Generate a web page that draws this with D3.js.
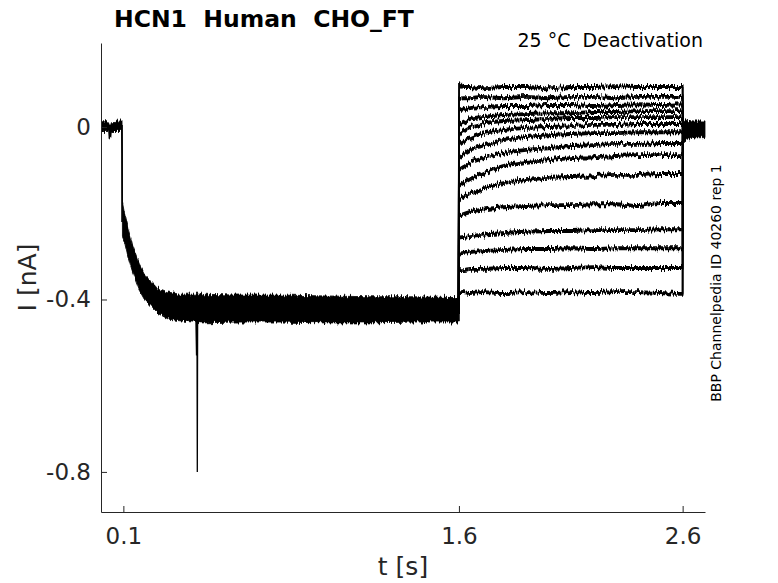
<!DOCTYPE html>
<html>
<head>
<meta charset="utf-8">
<script src="https://cdn.jsdelivr.net/npm/d3@7"></script>
<style>
  html, body { margin: 0; padding: 0; background: #fff; }
  svg { display: block; font-family: "DejaVu Sans", sans-serif; }
</style>
</head>
<body>
<svg id="chart" width="778" height="583"></svg>
<script>
// ---- data ----
const xTicks = [0.1, 1.6, 2.6];
const yTicks = [0, -0.4, -0.8];

// shared prepulse part (holding + hyperpolarising step), as envelope of overlapping sweeps
const bandT  = [0.004, 0.034, 0.036, 0.044, 0.046, 0.092, 0.094, 0.096, 0.105, 0.12, 0.14, 0.17, 0.2, 0.25, 0.3, 0.35, 0.45, 0.6, 0.8, 1.0, 1.2, 1.4, 1.599];
const bandHi = [0.010, 0.010, 0.005, 0.005, 0.010, 0.012, 0.010, -0.175, -0.200, -0.235, -0.275, -0.318, -0.348, -0.375, -0.385, -0.390, -0.390, -0.392, -0.392, -0.394, -0.396, -0.396, -0.398];
const bandLo = [-0.008, -0.008, -0.025, -0.025, -0.008, -0.008, -0.060, -0.250, -0.262, -0.297, -0.332, -0.373, -0.401, -0.429, -0.443, -0.447, -0.452, -0.450, -0.450, -0.452, -0.452, -0.450, -0.450];

// capacitive artefact
const spikeT = [0.424, 0.427, 0.429, 0.4305, 0.432];
const spikeI = [-0.44, -0.53, -0.44, -0.80, -0.44];

// test pulse sweeps
const testT = [1.6, 1.62, 1.65, 1.7, 1.8, 1.9, 2.0, 2.1, 2.2, 2.3, 2.4, 2.5, 2.6];
const sweeps = [
  [0.102, 0.093, 0.093, 0.090, 0.093, 0.093, 0.090, 0.093, 0.093, 0.095, 0.093, 0.093, 0.093],
  [0.065, 0.067, 0.067, 0.070, 0.067, 0.070, 0.067, 0.070, 0.070, 0.067, 0.070, 0.070, 0.070],
  [0.035, 0.039, 0.044, 0.046, 0.049, 0.049, 0.051, 0.051, 0.049, 0.051, 0.053, 0.051, 0.053],
  [0.007, 0.012, 0.019, 0.023, 0.028, 0.030, 0.032, 0.032, 0.035, 0.035, 0.037, 0.037, 0.037],
  [-0.019, -0.009, 0.000, 0.007, 0.014, 0.016, 0.019, 0.021, 0.021, 0.023, 0.023, 0.023, 0.023],
  [-0.044, -0.035, -0.026, -0.016, -0.007, -0.002, 0.000, 0.002, 0.005, 0.005, 0.007, 0.007, 0.007],
  [-0.070, -0.063, -0.053, -0.044, -0.030, -0.023, -0.019, -0.016, -0.014, -0.014, -0.012, -0.012, -0.012],
  [-0.100, -0.093, -0.083, -0.074, -0.060, -0.053, -0.049, -0.044, -0.042, -0.039, -0.039, -0.037, -0.037],
  [-0.137, -0.130, -0.121, -0.109, -0.090, -0.081, -0.077, -0.072, -0.070, -0.067, -0.065, -0.065, -0.065],
  [-0.169, -0.162, -0.153, -0.144, -0.130, -0.123, -0.118, -0.116, -0.114, -0.111, -0.111, -0.109, -0.109],
  [-0.206, -0.202, -0.197, -0.192, -0.186, -0.183, -0.181, -0.181, -0.179, -0.179, -0.183, -0.176, -0.176],
  [-0.257, -0.255, -0.253, -0.250, -0.246, -0.243, -0.241, -0.241, -0.239, -0.239, -0.239, -0.237, -0.237],
  [-0.294, -0.292, -0.290, -0.288, -0.285, -0.283, -0.283, -0.281, -0.283, -0.281, -0.281, -0.281, -0.281],
  [-0.332, -0.332, -0.329, -0.329, -0.327, -0.327, -0.329, -0.327, -0.325, -0.327, -0.327, -0.327, -0.327],
  [-0.383, -0.383, -0.385, -0.383, -0.385, -0.383, -0.385, -0.383, -0.385, -0.383, -0.383, -0.385, -0.387]
];
const prepulseEnd = -0.43;

// return to holding after the test pulse
const tailT  = [2.601, 2.605, 2.62, 2.65, 2.7];
const tailHi = [0.030, 0.016, 0.013, 0.012, 0.012];
const tailLo = [-0.040, -0.032, -0.026, -0.023, -0.022];

const xDomain = [0, 2.7];
const yDomain = [-0.893, 0.195];

// ---- drawing ----
const svg = d3.select("#chart");
const L = 101, R = 705, T = 43, B = 512;
const x = d3.scaleLinear().domain(xDomain).range([L, R]);
const y = d3.scaleLinear().domain(yDomain).range([B, T]);
const axisColor = "#262626";

// rendering texture that gives the recorded traces their ragged, noisy look
const defs = svg.append("defs");
const f = defs.append("filter").attr("id", "rough")
  .attr("x", "-2%").attr("y", "-5%").attr("width", "104%").attr("height", "110%");
f.append("feTurbulence").attr("type", "fractalNoise").attr("baseFrequency", "0.7 0.06")
  .attr("numOctaves", 1).attr("seed", 7).attr("result", "t");
f.append("feColorMatrix").attr("in", "t").attr("type", "matrix")
  .attr("values", "0 0 0 0 0.5  0 1 0 0 0  0 0 0 0 0  0 0 0 0 1").attr("result", "m");
f.append("feDisplacementMap").attr("in", "SourceGraphic").attr("in2", "m").attr("scale", 9)
  .attr("xChannelSelector", "R").attr("yChannelSelector", "G").attr("result", "d");
f.append("feMorphology").attr("in", "d").attr("operator", "dilate").attr("radius", "0 1");

const plot = svg.append("g").attr("filter", "url(#rough)");

// envelope band of the shared part
const area = d3.area().x(d => x(d[0])).y0(d => y(d[2])).y1(d => y(d[1]));
plot.append("path")
  .datum(bandT.map((t, i) => [t, bandHi[i], bandLo[i]]))
  .attr("d", area).attr("fill", "#000").attr("stroke", "#000").attr("stroke-width", 0.8);

// test sweeps
const line = d3.line().x(d => x(d[0])).y(d => y(d[1])).curve(d3.curveMonotoneX);
sweeps.forEach(s => {
  const pts = [[1.599, prepulseEnd]].concat(testT.map((t, i) => [t, s[i]]));
  pts[1][0] = 1.6005;
  pts.push([2.6012, 0]);
  plot.append("path").datum(pts).attr("d", line)
    .attr("fill", "none").attr("stroke", "#000").attr("stroke-width", 1.9)
    .attr("stroke-linejoin", "round");
});

plot.append("path")
  .datum(tailT.map((t, i) => [t, tailHi[i], tailLo[i]]))
  .attr("d", area).attr("fill", "#000").attr("stroke", "#000").attr("stroke-width", 0.8);

// crisp marks (no texture)
const crisp = svg.append("g");
const seg = d3.line().x(d => x(d[0])).y(d => y(d[1]));
crisp.append("path")
  .datum(spikeT.map((t, i) => [t, spikeI[i]]))
  .attr("d", seg).attr("fill", "none").attr("stroke", "#000").attr("stroke-width", 1.3);
crisp.append("path")
  .datum([[1.6, prepulseEnd - 0.02], [1.6, d3.max(sweeps, s => s[0])]])
  .attr("d", seg).attr("stroke", "#000").attr("stroke-width", 1.6);
crisp.append("path")
  .datum([[2.6, d3.min(sweeps, s => s[s.length - 1])], [2.6, d3.max(sweeps, s => s[s.length - 1])]])
  .attr("d", seg).attr("stroke", "#000").attr("stroke-width", 1.6);
crisp.append("path")
  .datum([[0.094, 0.005], [0.094, -0.22]])
  .attr("d", seg).attr("stroke", "#000").attr("stroke-width", 1.6);

// axes
const xAxis = d3.axisBottom(x).tickValues(xTicks).tickSize(-6).tickSizeOuter(0).tickPadding(16)
  .tickFormat(d => String(d));
const yAxis = d3.axisLeft(y).tickValues(yTicks).tickSize(-6).tickSizeOuter(0).tickPadding(10)
  .tickFormat(d => d === 0 ? "0" : String(d));

const gx = svg.append("g").attr("transform", `translate(0,${B})`).call(xAxis);
const gy = svg.append("g").attr("transform", `translate(${L},0)`).call(yAxis);
[gx, gy].forEach(g => {
  g.select(".domain").attr("stroke", axisColor).attr("stroke-width", 1);
  g.selectAll(".tick line").attr("stroke", axisColor).attr("stroke-width", 1);
  g.selectAll(".tick text").attr("fill", axisColor)
    .attr("font-family", "DejaVu Sans, sans-serif").attr("font-size", 23);
});

// labels
svg.append("text").attr("x", (L + R) / 2).attr("y", 575).attr("text-anchor", "middle")
  .attr("font-size", 25).attr("fill", axisColor).text("t [s]");
svg.append("text").attr("transform", `translate(36,${(T + B) / 2}) rotate(-90)`)
  .attr("text-anchor", "middle").attr("font-size", 25).attr("fill", axisColor).text("I [nA]");

svg.append("text").attr("x", 114).attr("y", 27).attr("font-size", 23.5).attr("font-weight", "bold")
  .attr("fill", "#000").style("white-space", "pre").text("HCN1  Human  CHO_FT");
svg.append("text").attr("x", 703).attr("y", 47).attr("text-anchor", "end").attr("font-size", 19)
  .attr("fill", "#000").style("white-space", "pre").text("25 °C  Deactivation");
svg.append("text").attr("transform", "translate(721,283) rotate(-90)")
  .attr("text-anchor", "middle").attr("font-size", 14).attr("fill", "#000")
  .text("BBP Channelpedia ID 40260 rep 1");
</script>
</body>
</html>
